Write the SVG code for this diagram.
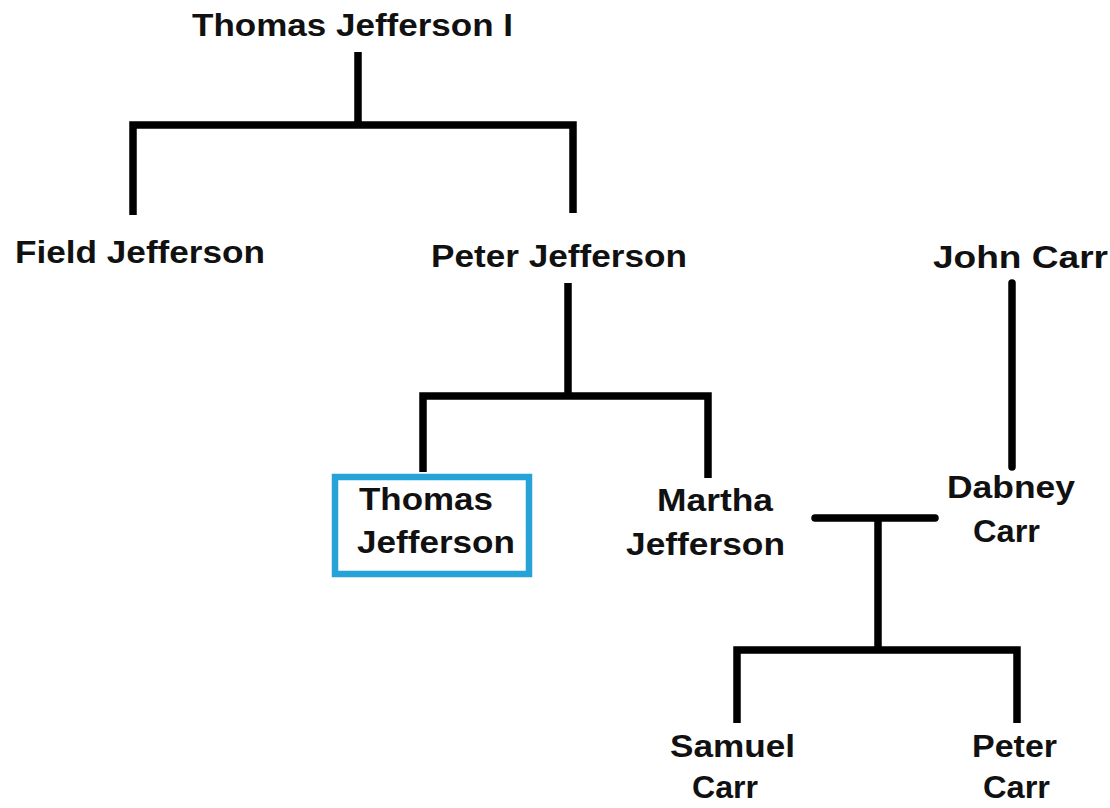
<svg xmlns="http://www.w3.org/2000/svg" width="1110" height="808" viewBox="0 0 1110 808">
<style>
text{font-family:"Liberation Sans",Arial,sans-serif;font-weight:bold;font-size:32px;fill:#111}
.c{fill:none;stroke:#000;stroke-width:7.5;stroke-linejoin:miter}
.r{stroke-linecap:round}
</style>
<rect width="1110" height="808" fill="#fff"/>
<g id="connectors">
<path class="c" d="M358 52V125M133 215V125H573V213"/>
<path class="c" d="M568 283V396M423 472V396H708V478"/>
<path class="c r" d="M1012 283V467"/>
<path class="c r" d="M815 518H935"/>
<path class="c" d="M878 518V650M737 723V650H1017V723"/>
</g>
<g id="thomas-jefferson-i"><text x="192" y="36" textLength="321" lengthAdjust="spacingAndGlyphs">Thomas Jefferson I</text></g>
<g id="field-jefferson"><text x="15" y="263" textLength="250" lengthAdjust="spacingAndGlyphs">Field Jefferson</text></g>
<g id="peter-jefferson"><text x="431" y="267" textLength="256" lengthAdjust="spacingAndGlyphs">Peter Jefferson</text></g>
<g id="john-carr"><text x="933" y="268" textLength="175" lengthAdjust="spacingAndGlyphs">John Carr</text></g>
<g id="thomas-jefferson">
<rect x="335" y="477" width="194" height="97" fill="none" stroke="#27a2d6" stroke-width="6.5"/>
<text x="359" y="510" textLength="134" lengthAdjust="spacingAndGlyphs">Thomas</text>
<text x="357" y="553" textLength="158" lengthAdjust="spacingAndGlyphs">Jefferson</text>
</g>
<g id="martha-jefferson">
<text x="657" y="511" textLength="116" lengthAdjust="spacingAndGlyphs">Martha</text>
<text x="626" y="555" textLength="159" lengthAdjust="spacingAndGlyphs">Jefferson</text>
</g>
<g id="dabney-carr">
<text x="947" y="498" textLength="128" lengthAdjust="spacingAndGlyphs">Dabney</text>
<text x="973" y="542" textLength="67" lengthAdjust="spacingAndGlyphs">Carr</text>
</g>
<g id="samuel-carr">
<text x="670" y="757" textLength="125" lengthAdjust="spacingAndGlyphs">Samuel</text>
<text x="692" y="798" textLength="66" lengthAdjust="spacingAndGlyphs">Carr</text>
</g>
<g id="peter-carr">
<text x="972" y="757" textLength="85" lengthAdjust="spacingAndGlyphs">Peter</text>
<text x="983" y="798" textLength="67" lengthAdjust="spacingAndGlyphs">Carr</text>
</g>
</svg>
